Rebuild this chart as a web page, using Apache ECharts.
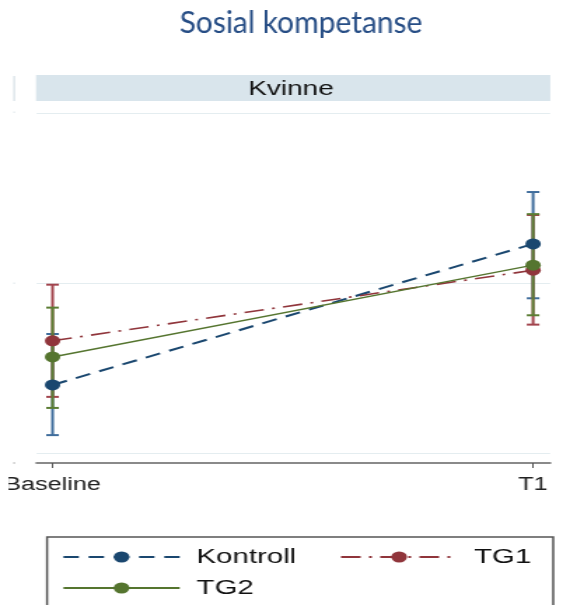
<!DOCTYPE html>
<html><head><meta charset="utf-8">
<script src="https://cdn.jsdelivr.net/npm/echarts@6/dist/echarts.min.js"></script>
<style>
html,body{margin:0;padding:0;background:#fff;overflow:hidden;}
#wrap{width:577px;height:605px;overflow:hidden;position:relative;background:#fff;}
#chart{width:412px;height:605px;transform:scaleX(1.4005);transform-origin:0 0;}
</style></head><body>
<div id="wrap"><div id="chart"></div></div>
<script>
// ---- data ----
const categories = ['Baseline', 'T1'];
const seriesNames = ['Kontroll', 'TG1', 'TG2'];
const kontrollMean = [1.880, 2.046];
const kontrollLow  = [1.821, 1.982];
const kontrollHigh = [1.940, 2.107];
const tg1Mean = [1.932, 2.015];
const tg1Low  = [1.866, 1.951];
const tg1High = [1.998, 2.080];
const tg2Mean = [1.913, 2.021];
const tg2Low  = [1.853, 1.962];
const tg2High = [1.971, 2.081];
const gridValues = [1.8, 2.0, 2.2];
const titleText = 'Sosial kompetanse';
const panelLabel = 'Kvinne';

// ---- style ----
const SX = 1.4005;               // horizontal stretch of the original graph
const FONT = "'Liberation Sans', Arial, sans-serif";
const colors = ['#1a476f', '#90353b', '#55752f'];
const barColors = ['#3f6d9c', '#a2444d', '#5b7d33'];
const means = [kontrollMean, tg1Mean, tg2Mean];
const lows = [kontrollLow, tg1Low, tg2Low];
const highs = [kontrollHigh, tg1High, tg2High];
const dashes = [[11, 7], [14, 6, 2, 6], 'solid'];
const widths = [2, 1.6, 1.5];

const chart = echarts.init(document.getElementById('chart'), null, {renderer: 'canvas'});

function errorSeries(i) {
  return {
    type: 'custom',
    name: seriesNames[i] + ' CI',
    z: 2,
    silent: true,
    data: categories.map((c, k) => [k, lows[i][k], highs[i][k]]),
    encode: {x: 0, y: [1, 2]},
    renderItem: function (params, api) {
      const x = api.value(0);
      const lo = api.coord([x, api.value(1)]);
      const hi = api.coord([x, api.value(2)]);
      const hw = 4.5;
      const st = {stroke: barColors[i], lineWidth: 2};
      return {
        type: 'group',
        children: [
          {type: 'line', shape: {x1: lo[0], y1: lo[1], x2: hi[0], y2: hi[1]}, style: st},
          {type: 'line', shape: {x1: lo[0] - hw, y1: lo[1], x2: lo[0] + hw, y2: lo[1]}, style: st},
          {type: 'line', shape: {x1: hi[0] - hw, y1: hi[1], x2: hi[0] + hw, y2: hi[1]}, style: st}
        ]
      };
    }
  };
}

function lineSeries(i) {
  const s = {
    type: 'line',
    name: seriesNames[i],
    z: 3,
    data: categories.map((c, k) => [k, means[i][k]]),
    symbol: 'circle',
    symbolSize: 11,
    showSymbol: true,
    itemStyle: {color: colors[i], borderWidth: 0},
    lineStyle: {color: colors[i], width: widths[i], type: dashes[i]},
    emphasis: {disabled: true},
    animation: false
  };
  if (i === 0) {
    s.markLine = {
      silent: true,
      symbol: ['none', 'none'],
      label: {show: false},
      z: 1,
      lineStyle: {color: '#e4edf0', width: 1, type: 'solid'},
      data: gridValues.map(v => ({yAxis: v}))
    };
  }
  return s;
}

const legendCommon = {
  left: 44.3,
  padding: 0,
  itemWidth: 83,
  itemHeight: 14,
  itemGap: 31,
  selectedMode: false,
  textStyle: {fontFamily: FONT, fontSize: 21, color: '#111', lineHeight: 22, padding: [0, 0, 0, 7]}
};

const option = {
  animation: false,
  backgroundColor: '#fff',
  grid: {left: 25.7, right: 19.2, top: 101, bottom: 142, containLabel: false},
  xAxis: {
    type: 'value',
    min: -0.0332,
    max: 1.0355,
    axisLine: {show: true, onZero: false, lineStyle: {color: '#8a8a8a', width: 2}},
    axisTick: {show: true, length: 5, customValues: [0, 1], lineStyle: {color: '#555', width: 1}},
    axisLabel: {customValues: [0, 1], formatter: v => categories[Math.round(v)], fontFamily: FONT, fontSize: 18, color: '#222', margin: 13},
    splitLine: {show: false}
  },
  yAxis: {
    type: 'value',
    min: 1.7882,
    max: 2.2141,
    show: false,
    splitLine: {show: false}
  },
  legend: [
    Object.assign({}, legendCommon, {top: 546, data: [seriesNames[0], seriesNames[1]]}),
    Object.assign({}, legendCommon, {top: 577, data: [seriesNames[2]]})
  ],
  graphic: [
    {type: 'text', x: 301 / SX, y: 23, scaleX: 1 / SX, z: 10,
     style: {text: titleText, fontFamily: 'Lato, "Open Sans", sans-serif', fontSize: 30, fill: '#264d85', textAlign: 'center', textVerticalAlign: 'middle'}},
    {type: 'rect', shape: {x: 25.7, y: 75, width: 367.2, height: 26}, style: {fill: '#d9e5ec'}, z: 0},
    {type: 'text', x: 291 / SX, y: 89, z: 10,
     style: {text: panelLabel, fontFamily: FONT, fontSize: 20, fill: '#111', textAlign: 'center', textVerticalAlign: 'middle'}},
    {type: 'rect', shape: {x: 9.6, y: 76, width: 1, height: 25}, style: {fill: '#cfdbe2'}, z: 0},
    {type: 'rect', shape: {x: 9.6, y: 111.5, width: 1, height: 1.5}, style: {fill: '#dde6ea'}, z: 0},
    {type: 'rect', shape: {x: 9.6, y: 282.5, width: 1, height: 1.5}, style: {fill: '#dde6ea'}, z: 0},
    {type: 'rect', shape: {x: 9.6, y: 462, width: 1, height: 2}, style: {fill: '#bbbbbb'}, z: 0},
    {type: 'rect', shape: {x: 33.6, y: 537, width: 361.4, height: 90}, style: {fill: 'none', stroke: '#555', lineWidth: 1.5}, z: 0},
    {type: 'rect', shape: {x: 0, y: 468, width: 6.1, height: 40}, style: {fill: '#fff'}, z: 100}
  ],
  series: [errorSeries(0), errorSeries(1), errorSeries(2), lineSeries(0), lineSeries(1), lineSeries(2)]
};
chart.setOption(option);
</script>
</body></html>
